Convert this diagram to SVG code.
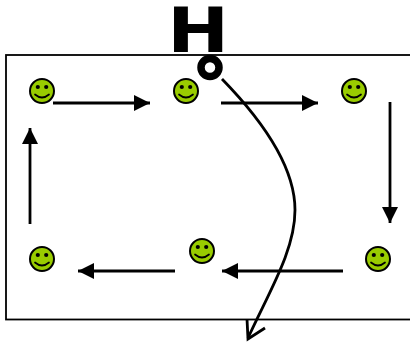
<svg xmlns="http://www.w3.org/2000/svg" width="410" height="343" viewBox="0 0 410 343" xmlns:xlink="http://www.w3.org/1999/xlink">
<style>
.c{fill:none;stroke:#000;stroke-width:2.8}
.b{fill:#99cc00;stroke:#000;stroke-width:2}
.e{fill:#000}
.m{fill:none;stroke:#000;stroke-width:1.7;stroke-linecap:round}
</style>
<defs>
<marker id="a" markerUnits="userSpaceOnUse" markerWidth="18" markerHeight="18" refX="16" refY="9" orient="auto"><path d="M0 1 L16 9 L0 17 Z" fill="#000"/></marker>
<g id="s"><circle class="b" r="12"/><circle class="e" cx="-4.2" cy="-4" r="2.1"/><circle class="e" cx="4.2" cy="-4" r="2.1"/><path class="m" d="M-7 3.500 Q0 9.500 7 3.500"/></g>
</defs>
<rect id="frame" x="6" y="55" width="410" height="264.500" fill="none" stroke="#000" stroke-width="1.8"/>
<g id="connectors">
<path class="c" d="M53 103H150" marker-end="url(#a)"/>
<path class="c" d="M221 103H318" marker-end="url(#a)"/>
<path class="c" d="M390 102V223" marker-end="url(#a)"/>
<path class="c" d="M343 271H222" marker-end="url(#a)"/>
<path class="c" d="M175 271H78" marker-end="url(#a)"/>
<path class="c" d="M30 224V128" marker-end="url(#a)"/>
<path class="c" d="M222 79C260 118 295 165 295 210C295 250 270 290 248 338"/>
<path class="c" d="M247 319L248 339L265 328"/>
</g>
<g id="n1"><use xlink:href="#s" x="42" y="91"/></g>
<g id="n2"><use xlink:href="#s" x="186" y="91"/></g>
<g id="n3"><use xlink:href="#s" x="354" y="91"/></g>
<g id="n4"><use xlink:href="#s" x="378" y="259"/></g>
<g id="n5"><use xlink:href="#s" x="202" y="251"/></g>
<g id="n6"><use xlink:href="#s" x="42" y="259"/></g>
<g id="h"><text transform="translate(198 52) scale(1.19 1)" text-anchor="middle" font-family="'DejaVu Sans',sans-serif" font-weight="bold" font-size="62">H</text></g>
<g id="o"><circle cx="210" cy="67.500" r="9" fill="#fff" stroke="#000" stroke-width="7.500"/></g>
</svg>
